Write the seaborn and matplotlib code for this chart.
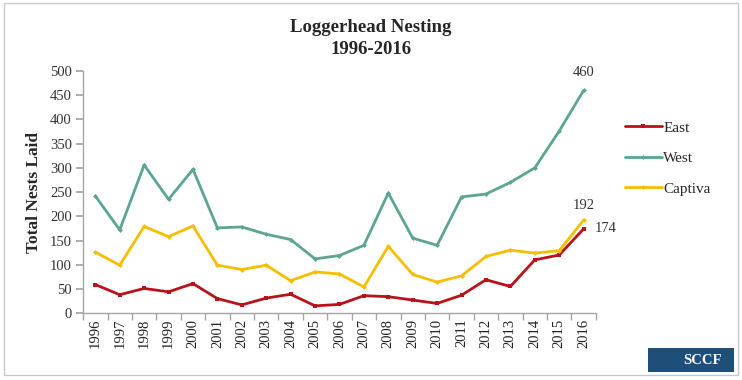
# Loggerhead nesting 1996-2016
import seaborn as sns
import matplotlib.pyplot as plt
import matplotlib.patches as patches
import pandas as pd
import numpy as np

years = list(range(1996, 2017))
east = [59, 38, 51, 44, 61, 30, 17, 31, 39, 15, 18, 36, 34, 27, 20, 37, 69, 55, 110, 120, 174]
west = [242, 172, 306, 235, 297, 176, 178, 163, 152, 112, 119, 140, 248, 155, 140, 240, 246, 270, 300, 376, 460]
captiva = [126, 99, 179, 158, 180, 99, 90, 99, 67, 85, 81, 54, 138, 80, 64, 77, 117, 130, 124, 129, 192]

sns.set_theme(style="white")
plt.rcParams['font.family'] = ['Liberation Serif', 'DejaVu Serif']

df = pd.DataFrame({'idx': np.arange(len(years)), 'East': east, 'West': west, 'Captiva': captiva})

fig = plt.figure(figsize=(7.42, 3.80), dpi=100)
ax = fig.add_axes([0.112, 0.176, 0.691, 0.637])

colors = {'East': '#B8121B', 'West': '#5BA592', 'Captiva': '#F5BE00'}
marks = {'East': ('s', 3.5), 'West': ('D', 2.5), 'Captiva': ('D', 2.5)}
for name in ['East', 'West', 'Captiva']:
    m, ms = marks[name]
    sns.lineplot(data=df, x='idx', y=name, ax=ax, color=colors[name], linewidth=2,
                 marker=m, markersize=ms, markeredgewidth=0, label=name)

ax.set_xlim(-0.5, len(years) - 0.5)
ax.set_ylim(0, 500)
ax.set_yticks(range(0, 501, 50))
ax.set_xticks(df['idx'])
ax.set_xticklabels([str(y) for y in years], rotation=90, fontsize=10.5)
ax.set_xticks(np.arange(-0.5, len(years), 1), minor=True)
ax.tick_params(axis='x', which='major', length=0, pad=4, colors='#222222')
ax.tick_params(axis='x', which='minor', length=5, color='#A6A6A6', bottom=True)
ax.tick_params(axis='y', length=5, color='#A6A6A6', left=True, labelsize=10.5, labelcolor='#333333', pad=3)
for s in ['top', 'right']:
    ax.spines[s].set_visible(False)
for s in ['left', 'bottom']:
    ax.spines[s].set_color('#A6A6A6')
    ax.spines[s].set_linewidth(1)
ax.set_xlabel('')
ax.set_ylabel('Total Nests Laid', fontsize=12.5, fontweight='bold', labelpad=6)

last = len(years) - 1
ax.annotate(str(west[-1]), (last, west[-1]), xytext=(0, 8), textcoords='offset points',
            ha='center', va='bottom', fontsize=10.5, color='#333333')
ax.annotate(str(captiva[-1]), (last, captiva[-1]), xytext=(0, 6), textcoords='offset points',
            ha='center', va='bottom', fontsize=10.5, color='#333333')
ax.annotate(str(east[-1]), (last, east[-1]), xytext=(8, 0), textcoords='offset points',
            ha='left', va='center', fontsize=10.5, color='#333333')

ax.legend(loc='upper left', bbox_to_anchor=(1.03, 0.85), frameon=False, fontsize=11,
          handlelength=2.4, handletextpad=0.1, labelspacing=1.1)

fig.suptitle('Loggerhead Nesting\n1996-2016', fontsize=13.5, fontweight='bold', y=0.95, x=0.5,
             linespacing=1.35)

# outer border
fig.patches.append(patches.Rectangle((0.005, 0.012), 0.99, 0.98, transform=fig.transFigure,
                                     fill=False, edgecolor='#C8C8C8', linewidth=1))
# logo box
fig.patches.append(patches.Rectangle((648 / 742, 1 - 372 / 380), 86 / 742, 24 / 380,
                                     transform=fig.transFigure, facecolor='#1F4E79', edgecolor='none'))
fig.text(702 / 742, 1 - 360 / 380, 'SCCF', color='white', fontsize=10.5, fontweight='bold',
         ha='center', va='center')

fig.savefig('out.png', dpi=100)
